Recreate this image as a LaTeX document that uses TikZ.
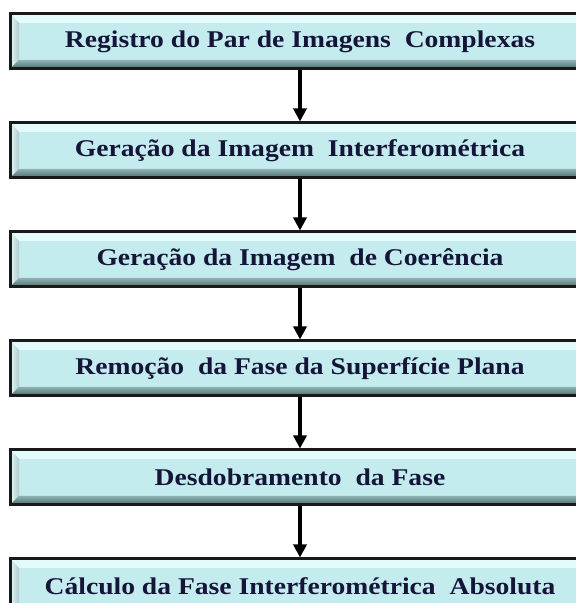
\documentclass[tikz,border=0pt]{standalone}
\usepackage{fontspec}
\setmainfont{Liberation Serif}
\newfontfamily\stagefont[FakeStretch=1.15]{Liberation Serif}
\usepackage{tikz}
\usetikzlibrary{positioning,arrows.meta}

\definecolor{facecyan}{HTML}{C4ECEE}
\definecolor{bevlight}{HTML}{E4FBFB}
\definecolor{bevmid}{HTML}{8EB2B4}
\definecolor{bevdark}{HTML}{4E6A6C}
\definecolor{inknavy}{HTML}{15153A}

\begin{document}
\begin{tikzpicture}[
	stage/.style={draw=black!90, line width=3pt, fill=facecyan, minimum width=580pt, minimum height=55pt,
		font=\stagefont\bfseries\fontsize{24}{28}\selectfont, text=inknavy, inner sep=0pt,
		path picture={
			\fill[bevlight] (path picture bounding box.north west) -- (path picture bounding box.north east)
				-- ([shift={(-9pt,-9pt)}]path picture bounding box.north east) -- ([shift={(9pt,-9pt)}]path picture bounding box.north west) -- cycle;
			\shade[left color=bevlight, right color=bevmid!70] (path picture bounding box.north west) -- ([shift={(9pt,-9pt)}]path picture bounding box.north west)
				-- ([shift={(9pt,9pt)}]path picture bounding box.south west) -- (path picture bounding box.south west) -- cycle;
			\shade[left color=bevmid, right color=bevdark!80] (path picture bounding box.north east) -- ([shift={(-9pt,-9pt)}]path picture bounding box.north east)
				-- ([shift={(-9pt,9pt)}]path picture bounding box.south east) -- (path picture bounding box.south east) -- cycle;
			\shade[top color=bevmid, bottom color=bevdark] (path picture bounding box.south west) -- ([shift={(9pt,9pt)}]path picture bounding box.south west)
				-- ([shift={(-9pt,9pt)}]path picture bounding box.south east) -- (path picture bounding box.south east) -- cycle;
		}},
	flow/.style={line width=3.5pt, -{Triangle[width=13pt,length=13pt]}}
]
	\useasboundingbox (0,0) rectangle (576pt,603pt);
	\clip (0,0) rectangle (576pt,603pt);

	\node[stage] (reg) at (300pt,561.5pt) {Registro do Par de Imagens\ \ Complexas};
	\node[stage, below=51pt of reg] (interf) {Geração da Imagem\ \ Interferométrica};
	\node[stage, below=51pt of interf] (coer) {Geração da Imagem\ \ de Coerência};
	\node[stage, below=51pt of coer] (remoc) {Remoção\ \ da Fase da Superfície Plana};
	\node[stage, below=51pt of remoc] (desd) {Desdobramento\ \ da Fase};
	\node[stage, below=51pt of desd] (calc) {Cálculo da Fase Interferométrica\ \ Absoluta};

	\foreach \a/\b in {reg/interf, interf/coer, coer/remoc, remoc/desd, desd/calc}
		\draw[flow] (\a) -- (\b);

\end{tikzpicture}
\end{document}
